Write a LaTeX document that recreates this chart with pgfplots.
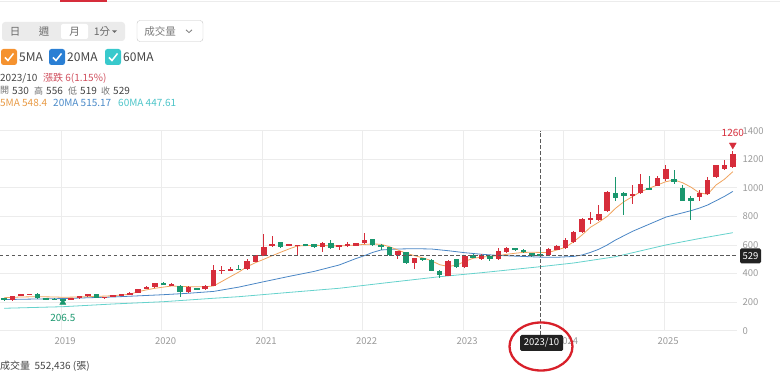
\documentclass[border=0pt]{standalone}
\usepackage{pgfplots}
\pgfplotsset{compat=1.18}
\usepackage{pgfplotstable}
\usepackage{fontspec}
\setmainfont{Noto Sans CJK TC}
\definecolor{cred}{HTML}{D62D3B}
\definecolor{cgreen}{HTML}{1A976E}
\definecolor{cma5}{HTML}{F0A35E}
\definecolor{cma20}{HTML}{4A86C5}
\definecolor{cma60}{HTML}{66D2CC}
\definecolor{cgrid}{HTML}{ECECEC}
\definecolor{ctick}{HTML}{9A9A9A}
\definecolor{ctext}{HTML}{444444}
\definecolor{cdark}{HTML}{222222}
\definecolor{ccross}{HTML}{5A5A5A}
\definecolor{cbtn}{HTML}{EBEBEB}
\definecolor{ccircle}{HTML}{D8202A}
\definecolor{cbox5}{HTML}{F5922F}
\definecolor{cbox20}{HTML}{2A7FD4}
\definecolor{cbox60}{HTML}{38C9CC}
\definecolor{ctxt5}{HTML}{E89A45}
\definecolor{ctxt20}{HTML}{4A8AC8}
\definecolor{ctxt60}{HTML}{4CC4C8}
\definecolor{cchg}{HTML}{D0505E}

\pgfplotstableread{
m o h l c
-6 212 245 208 243
-5 245 258 240 252
-4 252 260 250 257
1 214 230 212 228
2 228 242 225 240
3 240 260 238 254
5 230 238 226 236
6 238 253 236 250
7 248 256 244 252
8 252 270 250 266
9 266 294 262 292
10 296 310 294 304
11 304 336 300 332
13 318 335 316 322
15 270 310 262 304
17 292 320 288 316
18 316 460 312 425
19 415 452 398 428
20 422 446 420 428
22 430 505 426 490
23 484 532 480 528
24 525 676 520 588
25 590 665 585 606
27 596 610 590 602
28 595 600 520 598
31 584 618 553 614
33 586 602 562 598
34 594 618 588 604
35 594 616 590 612
36 612 682 608 638
40 530 560 502 556
42 472 510 430 506
46 385 492 380 488
48 444 528 438 522
50 502 534 498 530
52 500 576 494 558
53 548 586 542 576
58 530 578 525 572
59 568 598 562 592
60 580 648 572 636
61 620 700 612 692
62 692 790 686 780
63 772 828 745 790
64 775 878 770 815
65 835 980 828 970
68 945 1020 888 955
69 962 1100 955 1026
71 1016 1080 1010 1072
72 1060 1160 1050 1130
76 935 985 910 965
77 958 1078 950 1058
78 1075 1162 1068 1158
79 1132 1192 1125 1158
80 1145 1260 1140 1240
}\upT

\pgfplotstableread{
m o h l c
-7 228 232 210 215
-3 257 262 225 228
-2 228 230 218 222
-1 222 226 214 218
0 220 224 206.5 214
4 255 258 226 230
12 334 340 318 322
14 310 318 235 270
16 296 300 286 290
21 432 458 424 426
26 618 622 576 584
29 600 604 592 597
30 604 608 580 584
32 616 636 572 578
37 642 645 596 598
38 598 604 565 592
39 584 588 525 530
41 548 552 468 472
43 506 512 488 500
44 495 500 416 420
45 418 422 368 392
47 500 502 438 446
49 530 534 508 512
51 526 530 490 500
54 576 582 556 562
55 565 570 544 548
56 542 546 515 520
57 530 556 519 529
66 965 1075 905 930
67 965 970 810 940
70 998 1082 988 992
73 1060 1125 1030 1038
74 1000 1020 905 908
75 930 945 778 905
}\downT

\begin{document}
\begin{tikzpicture}[x=1pt,y=1pt]
\useasboundingbox (0pt,0pt) rectangle (780pt,-382pt);
% top tab line
\fill[cgrid] (0,-1) rectangle (780,-2.2);
\fill[cred] (60,0) rectangle (107,-2.2);
% button group
\fill[cbtn, rounded corners=3pt] (2,-22) rectangle (125,-41);
\fill[white, rounded corners=2pt] (61,-24) rectangle (88,-39);
\node[text=ctext!80, font=\fontsize{10.5}{12}\selectfont] at (15,-31.5) {日};
\node[text=ctext!80, font=\fontsize{10.5}{12}\selectfont] at (44,-31.5) {週};
\node[text=ctext!80, font=\fontsize{10.5}{12}\selectfont] at (74.5,-31.5) {月};
\node[text=ctext!80, font=\fontsize{10.5}{12}\selectfont] at (102,-31.5) {1分};
\fill[ctext!80] (112,-30.5) -- (117,-30.5) -- (114.5,-33) -- cycle;
% volume dropdown
\draw[gray!45, fill=white, rounded corners=3pt] (137,-20.5) rectangle (203,-41.5);
\node[text=ctext!70, font=\fontsize{10.5}{12}\selectfont] at (160,-31.5) {成交量};
\draw[ctext!70, line width=0.8pt] (186,-29.8) -- (189,-32.6) -- (192,-29.8);
% checkboxes
\foreach \xx/\cc in {1/cbox5, 49/cbox20, 105/cbox60}{
  \fill[\cc, rounded corners=2.5pt] (\xx,-49) rectangle (\xx+16,-65);
  \draw[white, line width=1.5pt] (\xx+4,-57.5) -- (\xx+7,-60.5) -- (\xx+12.5,-53.5);
}
\node[anchor=west, inner sep=0pt, text=ctext, font=\fontsize{12}{14}\selectfont] at (19,-57) {5MA};
\node[anchor=west, inner sep=0pt, text=ctext, font=\fontsize{12}{14}\selectfont] at (67,-57) {20MA};
\node[anchor=west, inner sep=0pt, text=ctext, font=\fontsize{12}{14}\selectfont] at (123,-57) {60MA};
% info lines
\node[anchor=west, inner sep=0pt, text=ctext, font=\fontsize{10}{12}\selectfont] at (0,-78.3) {2023/10};
\node[anchor=west, inner sep=0pt, text=cchg, font=\fontsize{10}{12}\selectfont] at (43,-78.3) {漲跌 6(1.15\%)};
\node[anchor=west, inner sep=0pt, text=ctext!75, font=\fontsize{9}{11}\selectfont] at (0,-90.7) {開};
\node[anchor=west, inner sep=0pt, text=ctext, font=\fontsize{10}{12}\selectfont] at (12,-90.7) {530};
\node[anchor=west, inner sep=0pt, text=ctext!75, font=\fontsize{9}{11}\selectfont] at (34,-90.7) {高};
\node[anchor=west, inner sep=0pt, text=ctext, font=\fontsize{10}{12}\selectfont] at (46,-90.7) {556};
\node[anchor=west, inner sep=0pt, text=ctext!75, font=\fontsize{9}{11}\selectfont] at (68,-90.7) {低};
\node[anchor=west, inner sep=0pt, text=ctext, font=\fontsize{10}{12}\selectfont] at (80,-90.7) {519};
\node[anchor=west, inner sep=0pt, text=ctext!75, font=\fontsize{9}{11}\selectfont] at (101,-90.7) {收};
\node[anchor=west, inner sep=0pt, text=ctext, font=\fontsize{10}{12}\selectfont] at (113,-90.7) {529};
\node[anchor=west, inner sep=0pt, text=ctxt5, font=\fontsize{10}{12}\selectfont] at (0,-103.3) {5MA 548.4};
\node[anchor=west, inner sep=0pt, text=ctxt20, font=\fontsize{10}{12}\selectfont] at (53,-103.3) {20MA 515.17};
\node[anchor=west, inner sep=0pt, text=ctxt60, font=\fontsize{10}{12}\selectfont] at (118,-103.3) {60MA 447.61};
% bottom volume text
\node[anchor=west, inner sep=0pt, text=ctext, font=\fontsize{10}{12}\selectfont] at (0,-366) {成交量\ \ 552,436 (張)};

\begin{axis}[
  at={(0pt,-330.7pt)}, anchor=south west,
  scale only axis, width=737pt, height=200pt,
  xmin=-7.5, xmax=80.5, ymin=0, ymax=1400,
  axis line style={draw=none}, tick style={draw=none},
  xtick={-0.2,11.8,23.8,35.8,47.8,59.8,71.8},
  xticklabels={2019,2020,2021,2022,2023,2024,2025},
  ytick={0,200,...,1400},
  yticklabel pos=right,
  grid=major, major grid style={cgrid, line width=0.8pt},
  ticklabel style={font=\fontsize{9.5}{11}\selectfont, text=ctick},
  xticklabel style={yshift=-3pt, xshift=4pt},
  yticklabel style={xshift=2pt},
  /pgf/number format/assume math mode=true,
  /pgf/number format/1000 sep={},
  clip=false,
]
% moving averages
\addplot[cma60, line width=0.8pt, mark=none] coordinates {
(-7,157) (0,168) (6,187) (12,203) (18,227) (21,238) (27,268) (33,297) (39,338) (45,378) (50,406) (57,448) (61,474) (66,518) (72,600) (76,645) (80,686)};
\addplot[cma20, line width=0.8pt, mark=none] coordinates {
(-7,218) (0,225) (6,236) (12,252) (15,262) (18,275) (21,305) (24,343) (27,380) (30,415) (33,460) (35,505) (36,525) (37,548) (38,565) (40,572) (42,574) (44,572) (46,560) (48,546) (50,535) (52,527) (54,522) (57,515) (59,514) (61,520) (62,530) (63,548) (64,570) (65,600) (66,635) (67,665) (68,695) (69,720) (70,745) (71,770) (72,795) (73,810) (74,825) (75,840) (76,858) (77,880) (78,910) (79,940) (80,975)};
\addplot[cma5, line width=0.8pt, mark=none] coordinates {
(-7,231) (-5,236) (-3,238) (-1,236) (0,234) (2,236) (4,240) (6,245) (8,255) (9,273) (10,286) (11,297) (13,313) (15,308) (17,308) (18,313) (19,345) (20,378) (21,410) (22,448) (23,476) (24,500) (25,525) (26,549) (27,572) (28,593) (30,598) (33,593) (35,600) (36,604) (37,607) (38,605) (39,588) (40,565) (41,542) (42,525) (43,510) (44,490) (45,462) (46,450) (47,458) (48,485) (49,507) (50,515) (51,520) (52,525) (53,535) (54,542) (55,548) (56,549) (57,548) (58,548) (59,565) (60,583) (61,623) (62,670) (63,724) (64,760) (65,800) (66,857) (67,903) (68,938) (69,973) (70,997) (71,1020) (72,1043) (73,1055) (74,1036) (75,1005) (76,965) (77,955) (78,1020) (79,1060) (80,1113)};
% wicks
\addplot[draw=none, mark=none, forget plot, error bars/.cd, y dir=both, y explicit, error mark=none, error bar style={draw=cred, line width=1pt}]
  table[x=m, y expr={(\thisrow{h}+\thisrow{l})/2}, y error expr={(\thisrow{h}-\thisrow{l})/2}] {\upT};
\addplot[draw=none, mark=none, forget plot, error bars/.cd, y dir=both, y explicit, error mark=none, error bar style={draw=cgreen, line width=1pt}]
  table[x=m, y expr={(\thisrow{h}+\thisrow{l})/2}, y error expr={(\thisrow{h}-\thisrow{l})/2}] {\downT};
% bodies
\addplot[draw=none, mark=none, forget plot, error bars/.cd, y dir=both, y explicit, error mark=none, error bar style={draw=cred, line width=5.5pt}]
  table[x=m, y expr={(\thisrow{o}+\thisrow{c})/2}, y error expr={max(abs(\thisrow{o}-\thisrow{c})/2,5)}] {\upT};
\addplot[draw=none, mark=none, forget plot, error bars/.cd, y dir=both, y explicit, error mark=none, error bar style={draw=cgreen, line width=5.5pt}]
  table[x=m, y expr={(\thisrow{o}+\thisrow{c})/2}, y error expr={max(abs(\thisrow{o}-\thisrow{c})/2,5)}] {\downT};
% crosshair
\addplot[color=ccross, mark=none, line width=0.8pt, dash pattern=on 3.5pt off 2.5pt] coordinates {(-7.5,529) (80.5,529)};
\addplot[color=ccross, mark=none, line width=0.8pt, dash pattern=on 3.5pt off 2.5pt] coordinates {(57,-30) (57,1400)};
% high / low markers
\addplot[only marks, mark=triangle*, mark size=4pt, mark options={rotate=180, fill=cred, draw=cred}] coordinates {(80,1300)};
\addplot[only marks, mark=triangle*, mark size=3.5pt, mark options={fill=cgreen, draw=cgreen}] coordinates {(0,197)};
\node[text=cred, font=\fontsize{10}{12}\selectfont] at (axis cs:80,1384) {1260};
\node[text=cgreen, font=\fontsize{10}{12}\selectfont] at (axis cs:0,89) {206.5};
\end{axis}
% value boxes
\node[fill=cdark, text=white, rounded corners=1.5pt, inner sep=0pt, minimum width=21pt, minimum height=15pt, font=\fontsize{9.5}{11}\selectfont] at (750.5,-255.8) {529};
\node[fill=cdark, text=white, rounded corners=1.5pt, inner sep=0pt, minimum width=43pt, minimum height=16pt, font=\fontsize{9.5}{11}\selectfont] at (541.5,-343) {2023/10};
\draw[ccircle, line width=2.3pt] (541,-346.5) ellipse [x radius=31.5, y radius=24];
\end{tikzpicture}
\end{document}
